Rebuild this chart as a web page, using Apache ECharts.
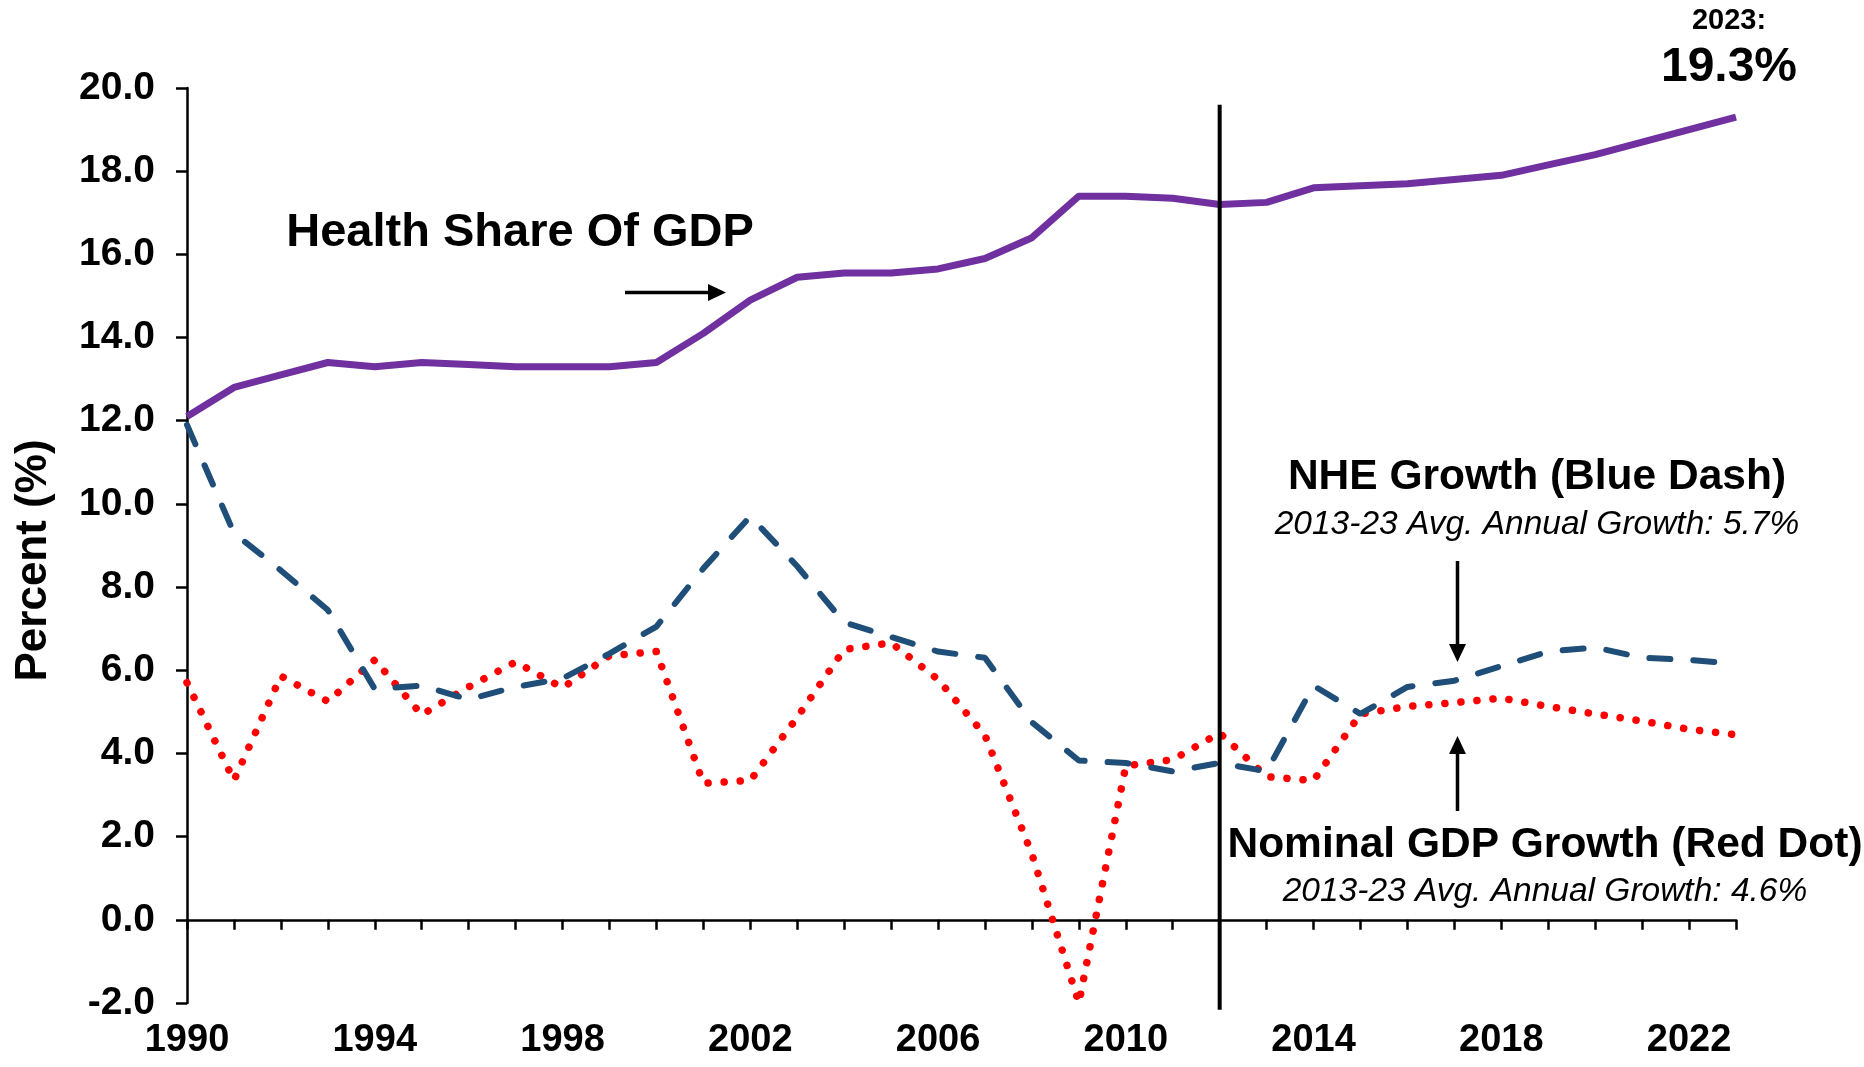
<!DOCTYPE html>
<html>
<head>
	<meta charset="utf-8">
	<title></title>
	<style>
		body {margin: 0;background: #fff;}
		#box_1 {width: 1864px;height: 1067px;}
	</style>
</head>
<body>
	<div id="box_1"></div>
</body>
<script src="https://cdn.jsdelivr.net/npm/echarts@6/dist/echarts.min.js"></script>
<script>
	// x轴年份
	var years = ['1990','1991','1992','1993','1994','1995','1996','1997','1998','1999',
		'2000','2001','2002','2003','2004','2005','2006','2007','2008','2009',
		'2010','2011','2012','2013','2014','2015','2016','2017','2018','2019',
		'2020','2021','2022','2023']
	// health share of GDP (purple)
	var healthShare = [12.1, 12.8, 13.1, 13.4, 13.3, 13.4, 13.35, 13.3, 13.3, 13.3,
		13.4, 14.1, 14.9, 15.45, 15.55, 15.55, 15.65, 15.9, 16.4, 17.4,
		17.4, 17.35, 17.2, 17.25, 17.6, 17.65, 17.7, 17.8, 17.9, 18.15,
		18.4, 18.7, 19.0, 19.3]
	// NHE growth (blue dash)
	var nheGrowth = [11.9, 9.3, 8.4, 7.45, 5.55, 5.63, 5.3, 5.6, 5.8, 6.4,
		7.05, 8.45, 9.7, 8.5, 7.15, 6.8, 6.45, 6.3, 4.75, 3.83,
		3.77, 3.57, 3.77, 3.57, 5.63, 4.95, 5.6, 5.75, 6.1, 6.45,
		6.55, 6.3, 6.25, 6.15]
	// nominal GDP growth (red dot)
	var gdpGrowth = [5.7, 3.35, 5.86, 5.25, 6.25, 4.93, 5.6, 6.2, 5.58, 6.35,
		6.45, 3.28, 3.35, 4.87, 6.5, 6.66, 5.78, 4.44, 1.58, -2.0,
		3.7, 3.85, 4.49, 3.44, 3.35, 4.95, 5.13, 5.22, 5.33, 5.13,
		4.95, 4.78, 4.58, 4.45]
	var splitYear = '2012'

	var fontB = '"Liberation Sans", Arial, sans-serif'
	var myChart = echarts.init(document.getElementById('box_1'));

	function arrow(x1, y1, x2, y2) {
		// 简单箭头：线 + 三角
		var dx = x2 - x1, dy = y2 - y1
		var len = Math.sqrt(dx*dx + dy*dy)
		var ux = dx/len, uy = dy/len
		var hl = 18, hw = 8.5
		var bx = x2 - ux*hl, by = y2 - uy*hl
		return {
			type: 'group',
			children: [
				{type: 'line', shape: {x1: x1, y1: y1, x2: bx + ux*2, y2: by + uy*2}, style: {stroke: '#000', lineWidth: 3.5}},
				{type: 'polygon', shape: {points: [[x2, y2], [bx - uy*hw, by + ux*hw], [bx + uy*hw, by - ux*hw]]}, style: {fill: '#000'}}
			]
		}
	}

	function label(text, x, y, font) {
		return {
			type: 'text',
			style: {
				text: text, x: x, y: y, font: font, fill: '#000',
				textAlign: 'center', align: 'center',
				textVerticalAlign: 'middle', verticalAlign: 'middle'
			}
		}
	}

	var option = {
		animation: false,
		grid: {
			left: 187,
			right: 128,
			top: 88,
			bottom: 64,
			containLabel: false,
			outerBoundsMode: 'none'
		},
		xAxis: [{
			type: 'category',
			data: years,
			boundaryGap: false,
			axisLine: {
				onZero: true,
				lineStyle: {color: '#000', width: 2.5}
			},
			axisTick: {
				interval: 0,
				length: 10,
				lineStyle: {color: '#000', width: 2.5}
			},
			axisLabel: {show: false},
			splitLine: {show: false}
		}, {
			type: 'category',
			data: years,
			boundaryGap: false,
			position: 'bottom',
			axisLine: {show: false, onZero: false},
			axisTick: {show: false},
			axisLabel: {
				interval: 3,
				margin: 19,
				color: '#000',
				fontSize: 38,
				fontWeight: 'bold',
				fontFamily: fontB
			},
			splitLine: {show: false}
		}],
		yAxis: {
			type: 'value',
			min: -2,
			max: 20,
			interval: 2,
			name: 'Percent (%)',
			nameLocation: 'middle',
			nameRotate: 90,
			nameGap: 131,
			nameMoveOverlap: false,
			nameTextStyle: {
				color: '#000',
				fontSize: 44,
				fontWeight: 'bold',
				fontFamily: fontB,
				padding: [0, 30, 0, 0]
			},
			axisLine: {
				show: true,
				lineStyle: {color: '#000', width: 2.5}
			},
			axisTick: {
				show: true,
				length: 11,
				lineStyle: {color: '#000', width: 2.5}
			},
			axisLabel: {
				margin: 32,
				color: '#000',
				fontSize: 39,
				fontWeight: 'bold',
				fontFamily: fontB,
				formatter: function(v) {
					return v.toFixed(1)
				}
			},
			splitLine: {show: false}
		},
		series: [
			{
				name: 'Nominal GDP Growth',
				type: 'line',
				data: gdpGrowth,
				showSymbol: false,
				smooth: false,
				lineStyle: {
					color: '#FF0000',
					width: 7.5,
					type: [0.1, 16],
					cap: 'round'
				},
				z: 2
			},
			{
				name: 'NHE Growth',
				type: 'line',
				data: nheGrowth,
				showSymbol: false,
				smooth: false,
				lineStyle: {
					color: '#1F4E79',
					width: 6,
					type: [21, 23],
					cap: 'round'
				},
				z: 3
			},
			{
				name: 'Health Share Of GDP',
				type: 'line',
				data: healthShare,
				showSymbol: false,
				smooth: false,
				lineStyle: {
					color: '#7030A0',
					width: 7
				},
				z: 4
			}
		]
	}
	myChart.setOption(option);

	// 2012 分隔线 + 注释
	var xs = myChart.convertToPixel({xAxisIndex: 0}, splitYear)
	var yTop = myChart.convertToPixel({yAxisIndex: 0}, 19.6)
	var yBot = myChart.convertToPixel({yAxisIndex: 0}, -2.16)
	myChart.setOption({
		graphic: [
			{type: 'line', shape: {x1: xs, y1: yTop, x2: xs, y2: yBot}, style: {stroke: '#000', lineWidth: 4}, z: 10},
			label('Health Share Of GDP', 520, 233, 'bold 47px ' + fontB),
			arrow(625, 292.5, 726, 292.5),
			label('2023:', 1729, 21, 'bold 29px ' + fontB),
			label('19.3%', 1729, 68, 'bold 48px ' + fontB),
			label('NHE Growth (Blue Dash)', 1537, 477, 'bold 42.5px ' + fontB),
			label('2013-23 Avg. Annual Growth: 5.7%', 1537, 525, 'italic 33.5px ' + fontB),
			arrow(1457.5, 561, 1457.5, 662),
			arrow(1457.5, 811, 1457.5, 736),
			label('Nominal GDP Growth (Red Dot)', 1545, 845, 'bold 42.5px ' + fontB),
			label('2013-23 Avg. Annual Growth: 4.6%', 1545, 892, 'italic 33.5px ' + fontB)
		]
	});
	setTimeout(function() {
		myChart.resize();
	},50)
</script>
</html>
